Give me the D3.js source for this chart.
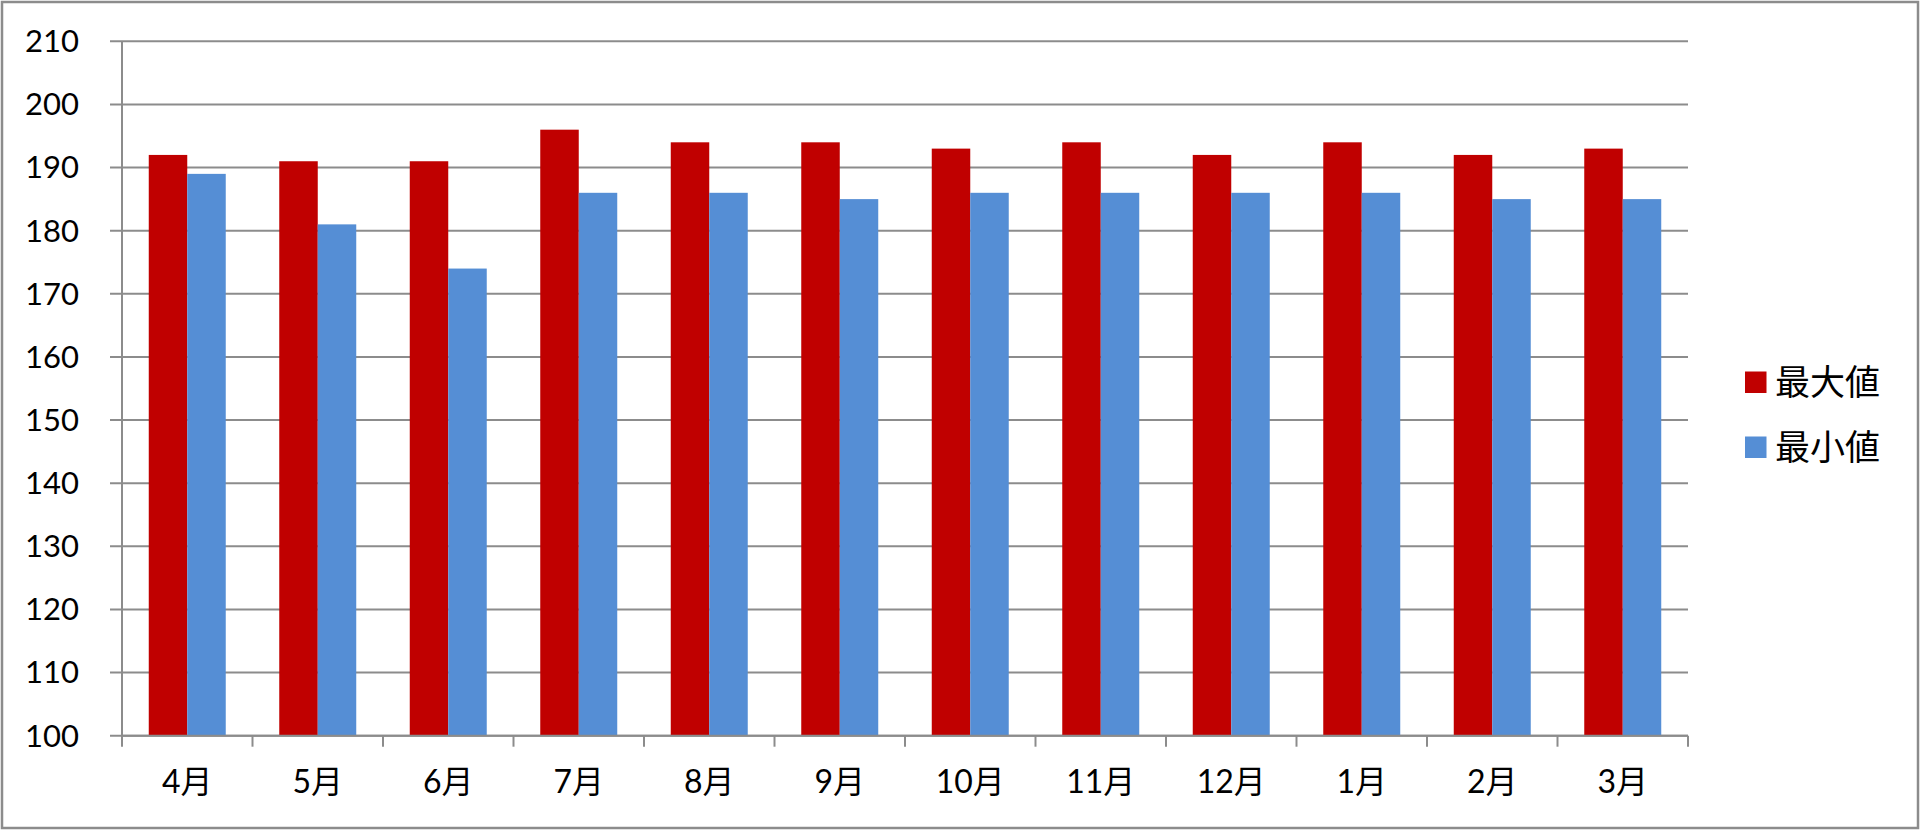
<!DOCTYPE html>
<html><head><meta charset="utf-8">
<script src="https://cdn.jsdelivr.net/npm/d3@7"></script>
<style>
html,body{margin:0;padding:0;background:#fff;}
svg{display:block;}
text{font-family:"Lato","Noto Sans CJK JP",sans-serif;fill:#000;}
</style></head>
<body><svg id="c" width="1920" height="830"></svg>
<script>
const categories = ["4月","5月","6月","7月","8月","9月","10月","11月","12月","1月","2月","3月"];
const maxValues = [192,191,191,196,194,194,193,194,192,194,192,193];
const minValues = [189,181,174,186,186,185,186,186,186,186,185,185];
const seriesNames = ["最大値","最小値"];
const seriesColors = ["#C00000","#558ED5"];
const yTicks = [100,110,120,130,140,150,160,170,180,190,200,210];

(function(){
const svg = d3.select("#c");
const W = 1920, H = 830;
const pLeft = 122, pRight = 1688, pTop = 41.3, pBottom = 735.7;

svg.append("rect").attr("x",2).attr("y",2).attr("width",W-4).attr("height",H-4)
  .attr("fill","#fff").attr("stroke","#8c8c8c").attr("stroke-width",2.5);

const x = d3.scaleBand().domain(categories).range([pLeft,pRight]).paddingInner(0).paddingOuter(0);
const y = d3.scaleLinear().domain([100,210]).range([pBottom,pTop]);
const bw = x.bandwidth();
const groupW = bw*0.59;
const x1 = d3.scaleBand().domain(seriesNames).range([0,groupW]).padding(0);

svg.append("g").selectAll("line").data(yTicks).join("line")
  .attr("x1",pLeft-12).attr("x2",pRight).attr("y1",d=>y(d)).attr("y2",d=>y(d))
  .attr("stroke","#8c8c8c").attr("stroke-width",2);

svg.append("g").selectAll("text").data(yTicks).join("text")
  .attr("x",79).attr("y",d=>y(d)).attr("dy","0.35em").attr("text-anchor","end")
  .attr("font-size",31).text(d=>d);

const data = categories.map((c,i)=>({c, vals:[maxValues[i],minValues[i]]}));
const g = svg.append("g").selectAll("g").data(data).join("g")
  .attr("transform",d=>`translate(${x(d.c)+(bw-groupW)/2},0)`);
g.selectAll("rect").data(d=>d.vals.map((v,j)=>({v,s:seriesNames[j],j}))).join("rect")
  .attr("x",d=>x1(d.s)).attr("width",x1.bandwidth())
  .attr("y",d=>y(d.v)).attr("height",d=>y(100)-y(d.v))
  .attr("fill",d=>seriesColors[d.j]);

svg.append("line").attr("x1",pLeft).attr("x2",pLeft).attr("y1",pTop).attr("y2",pBottom)
  .attr("stroke","#8c8c8c").attr("stroke-width",2);
svg.append("line").attr("x1",pLeft).attr("x2",pRight).attr("y1",pBottom).attr("y2",pBottom)
  .attr("stroke","#8c8c8c").attr("stroke-width",2);
const tickXs = categories.map(c=>x(c)).concat([pRight]);
svg.append("g").selectAll("line").data(tickXs).join("line")
  .attr("x1",d=>d).attr("x2",d=>d).attr("y1",pBottom).attr("y2",pBottom+11)
  .attr("stroke","#8c8c8c").attr("stroke-width",2);
svg.append("g").selectAll("text").data(categories).join("text")
  .attr("x",d=>x(d)+bw/2).attr("y",782).attr("dy","0.35em").attr("text-anchor","middle")
  .attr("font-size",32).text(d=>d);

const lg = svg.append("g").selectAll("g").data(seriesNames).join("g")
  .attr("transform",(d,i)=>`translate(1745,${371.5+i*65})`);
lg.append("rect").attr("width",21.5).attr("height",21.5).attr("fill",(d,i)=>seriesColors[i]);
lg.append("text").attr("x",30).attr("y",11).attr("dy","0.36em").attr("font-size",35).text(d=>d);
})();
</script></body></html>
